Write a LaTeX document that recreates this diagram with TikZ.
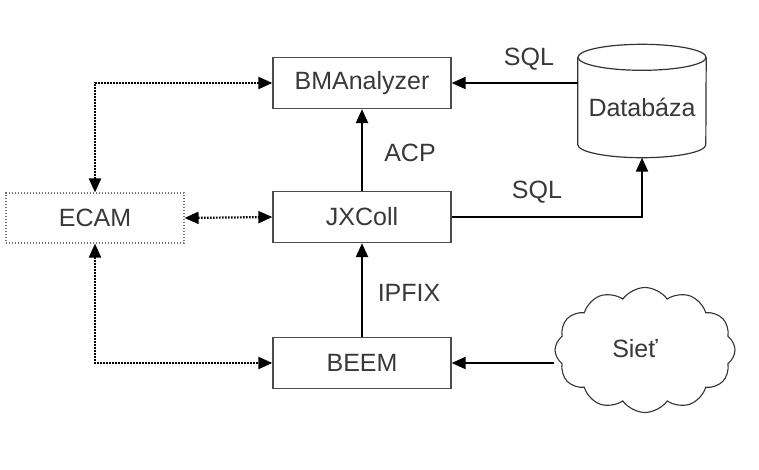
\documentclass[tikz,border=0pt]{standalone}
\usepackage{fontspec}
\setmainfont{Liberation Sans}
\usetikzlibrary{arrows.meta,shapes.symbols}

\begin{document}
\begin{tikzpicture}[
          x=1pt, y=-1pt,
          font=\fontsize{25}{28}\selectfont,
          every node/.style={
            text=black!78,
          },
          block/.style={
            draw=black!70,
            line width=1.3pt,
            minimum width=178pt,
            minimum height=51pt,
          },
          ghost/.style={
            draw=black!55,
            line width=1.1pt,
            dash pattern=on 1.3pt off 1.7pt,
            minimum width=178pt,
            minimum height=50pt,
          },
          store/.style={
            minimum width=128pt,
            minimum height=113pt,
            inner sep=0pt,
          },
          link/.style={line width=2.2pt},
          ctrl/.style={line width=2.2pt, dash pattern=on 1.6pt off 1.4pt},
          >={Triangle[length=14pt,width=12pt]},
        ]
        \useasboundingbox (0,0) rectangle (759,469) ;
        \node[block] at (362,83) (bma) {BMAnalyzer} ;
        \node[block] at (362,217) (jx) {JXColl} ;
        \node[block] at (362,363) (beem) {BEEM} ;
        \node[ghost] at (95,218) (ecam) {ECAM} ;
        \node[store] at (642,101) (db) {} ;
        % the cylinder round the database
        \draw[black!80, line width=1.2pt] ([yshift=-13pt]db.north west)
            -- ([yshift=13pt]db.south west)
            arc[start angle=180, end angle=360, x radius=64pt, y radius=13pt]
            -- ([yshift=-13pt]db.north east) ;
        \draw[black!80, line width=1.2pt] ([yshift=-13pt]db.north)
            ellipse[x radius=64pt, y radius=13pt] ;
        \node at (642,107) (dbtext) {Databáza} ;
        \node[draw=black!80, line width=1.1pt, cloud, cloud puffs=12,
              cloud puff arc=110, minimum width=180pt, minimum height=125pt]
              at (645,350) (net) {} ;
        \node at (635,349) (nettext) {Sieť} ;
        \draw[link,->] (jx)--(bma) ;
        \draw[link,->] (beem)--(jx) ;
        \draw[link,->] (db.west |- bma.east)--(bma.east) ;
        \draw[link,->] (jx.east)-|(db.south) ;
        \draw[link,->] (net.west |- beem.east)--(beem.east) ;
        \draw[ctrl,<->] (ecam.east)--(jx.west) ;
        \draw[ctrl,<->] (ecam.north)|-(bma.west) ;
        \draw[ctrl,<->] (ecam.south)|-(beem.west) ;
        \node at (410,153) (acp) {ACP} ;
        \node at (409,293) (ipfix) {IPFIX} ;
        \node at (529,59) (sqla) {SQL} ;
        \node at (537,192) (sqlb) {SQL} ;
        \end{tikzpicture}
\end{document}
